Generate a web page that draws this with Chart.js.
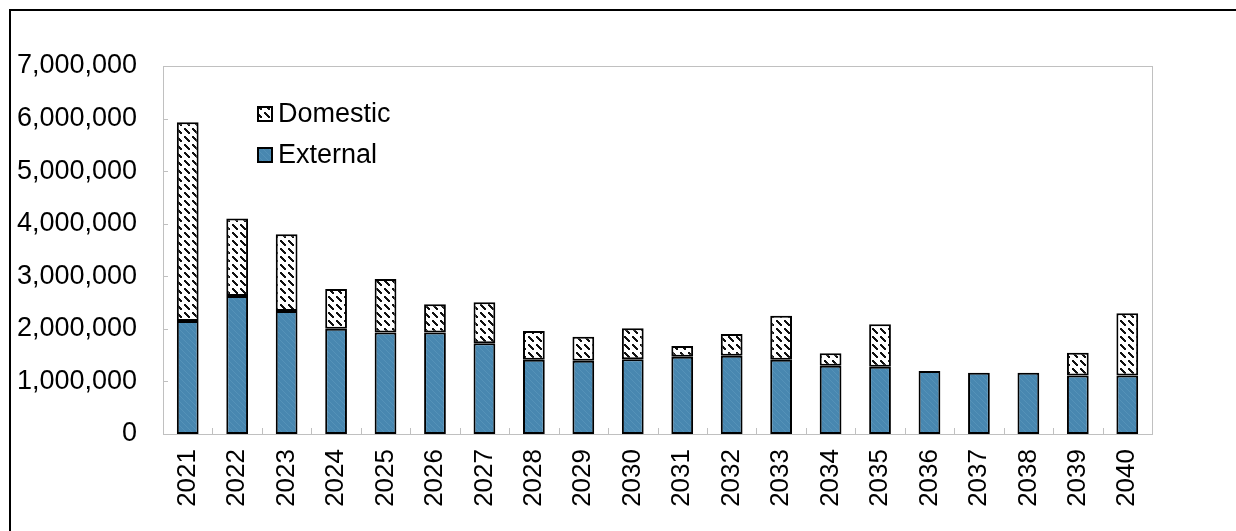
<!DOCTYPE html>
<html>
<head>
<meta charset="utf-8">
<script src="https://cdn.jsdelivr.net/npm/chart.js@4"></script>
<style>
  html, body { margin: 0; padding: 0; background: #fff; }
  #wrap { width: 1236px; height: 531px; }
</style>
</head>
<body>
<div id="wrap"><canvas id="grafico" width="1236" height="531"></canvas></div>
<script>
// Dados
const anos = ['2021', '2022', '2023', '2024', '2025', '2026', '2027', '2028', '2029', '2030',
              '2031', '2032', '2033', '2034', '2035', '2036', '2037', '2038', '2039', '2040'];

const externo = [2150000, 2625000, 2340000, 2000000, 1930000, 1930000, 1725000, 1410000, 1395000, 1420000,
                 1470000, 1490000, 1410000, 1300000, 1280000, 1200000, 1165000, 1165000, 1115000, 1115000];

const domestico = [3780000, 1475000, 1460000, 760000, 1020000, 540000, 780000, 550000, 455000, 590000,
                   205000, 410000, 840000, 235000, 810000, 0, 0, 0, 430000, 1180000];

const ticksY = [0, 1000000, 2000000, 3000000, 4000000, 5000000, 6000000, 7000000];

const FONTE = 'Liberation Sans, Arial, sans-serif';
const AZUL = '#4887b0';
const CINZA = '#c0c0c0';

/**
 * Padrão hachurado (diagonal tracejada) da série doméstica
 */
function padraoDomestico() {
  const c = document.createElement('canvas');
  c.width = 8; c.height = 8;
  const g = c.getContext('2d');
  g.fillStyle = '#fff';
  g.fillRect(0, 0, 8, 8);
  g.fillStyle = '#111';
  for (let i = 0; i < 5; i++) g.fillRect(i, i, 2, 2);
  return g.createPattern(c, 'repeat');
}

/**
 * Padrão azul com textura diagonal suave da série externa
 */
function padraoExterno() {
  const c = document.createElement('canvas');
  c.width = 6; c.height = 6;
  const g = c.getContext('2d');
  g.fillStyle = AZUL;
  g.fillRect(0, 0, 6, 6);
  g.fillStyle = '#5592b8';
  for (let i = 0; i < 6; i++) g.fillRect(i, i, 1, 1);
  return g.createPattern(c, 'repeat');
}

const hachuraDom = padraoDomestico();
const hachuraExt = padraoExterno();

// Moldura, eixos, marcas e legenda desenhados por cima
const molduraPlugin = {
  id: 'moldura',
  afterDraw(chart) {
    const ctx = chart.ctx;
    const area = chart.chartArea;
    const y = chart.scales.y;
    const x = chart.scales.x;
    ctx.save();

    // borda da área do gráfico
    ctx.strokeStyle = CINZA;
    ctx.lineWidth = 1;
    ctx.strokeRect(Math.round(area.left) + 0.5, Math.round(area.top) + 0.5,
                   Math.round(area.right - area.left), Math.round(area.bottom - area.top));

    // marcas do eixo Y (para dentro)
    ctx.beginPath();
    ticksY.forEach(v => {
      const py = Math.round(y.getPixelForValue(v)) + 0.5;
      ctx.moveTo(area.left, py);
      ctx.lineTo(area.left + 5, py);
    });
    // marcas do eixo X entre categorias (para cima)
    for (let i = 1; i < anos.length; i++) {
      const px = Math.round((x.getPixelForValue(i - 1) + x.getPixelForValue(i)) / 2) + 0.5;
      ctx.moveTo(px, area.bottom);
      ctx.lineTo(px, area.bottom - 6);
    }
    ctx.stroke();

    // legenda
    const itens = [
      { nome: 'Domestic', fill: hachuraDom, cy: 114 },
      { nome: 'External', fill: hachuraExt, cy: 155 }
    ];
    ctx.font = '27px ' + FONTE;
    ctx.textBaseline = 'middle';
    ctx.textAlign = 'left';
    itens.forEach(it => {
      ctx.fillStyle = it.fill;
      ctx.fillRect(258, it.cy - 7, 14, 14);
      ctx.strokeStyle = '#000';
      ctx.lineWidth = 2;
      ctx.strokeRect(258, it.cy - 7, 14, 14);
      ctx.fillStyle = '#000';
      ctx.fillText(it.nome, 278, it.cy + 1);
    });

    // moldura externa preta
    ctx.strokeStyle = '#000';
    ctx.lineWidth = 2;
    ctx.beginPath();
    ctx.moveTo(10, chart.height);
    ctx.lineTo(10, 10);
    ctx.lineTo(chart.width, 10);
    ctx.stroke();

    ctx.restore();
  }
};

const ctx = document.getElementById('grafico').getContext('2d');

const grafico = new Chart(ctx, {
  type: 'bar',
  data: {
    labels: anos,
    datasets: [
      {
        label: 'External',
        data: externo,
        backgroundColor: hachuraExt,
        borderColor: '#000',
        borderWidth: 2,
        borderSkipped: false,
        barPercentage: 0.44,
        categoryPercentage: 1
      },
      {
        label: 'Domestic',
        data: domestico,
        backgroundColor: hachuraDom,
        borderColor: '#000',
        borderWidth: 2,
        borderSkipped: false,
        barPercentage: 0.44,
        categoryPercentage: 1
      }
    ]
  },
  options: {
    responsive: false,
    animation: false,
    layout: { padding: { top: 66, right: 84, left: 0, bottom: 0 } },
    plugins: {
      legend: { display: false },
      tooltip: { enabled: false }
    },
    scales: {
      x: {
        stacked: true,
        grid: { display: false, drawTicks: false },
        border: { display: false },
        ticks: {
          color: '#000',
          font: { size: 26, family: FONTE },
          minRotation: 90,
          maxRotation: 90,
          padding: 15,
          autoSkip: false
        },
        afterFit: s => { s.height = 97; }
      },
      y: {
        stacked: true,
        min: 0,
        max: 7000000,
        grid: { display: false, drawTicks: false },
        border: { display: false },
        ticks: {
          stepSize: 1000000,
          color: '#000',
          font: { size: 27, family: FONTE },
          padding: 26,
          callback: v => v.toLocaleString('en-US')
        },
        afterFit: s => { s.width = 163; }
      }
    }
  },
  plugins: [molduraPlugin]
});
</script>
</body>
</html>
